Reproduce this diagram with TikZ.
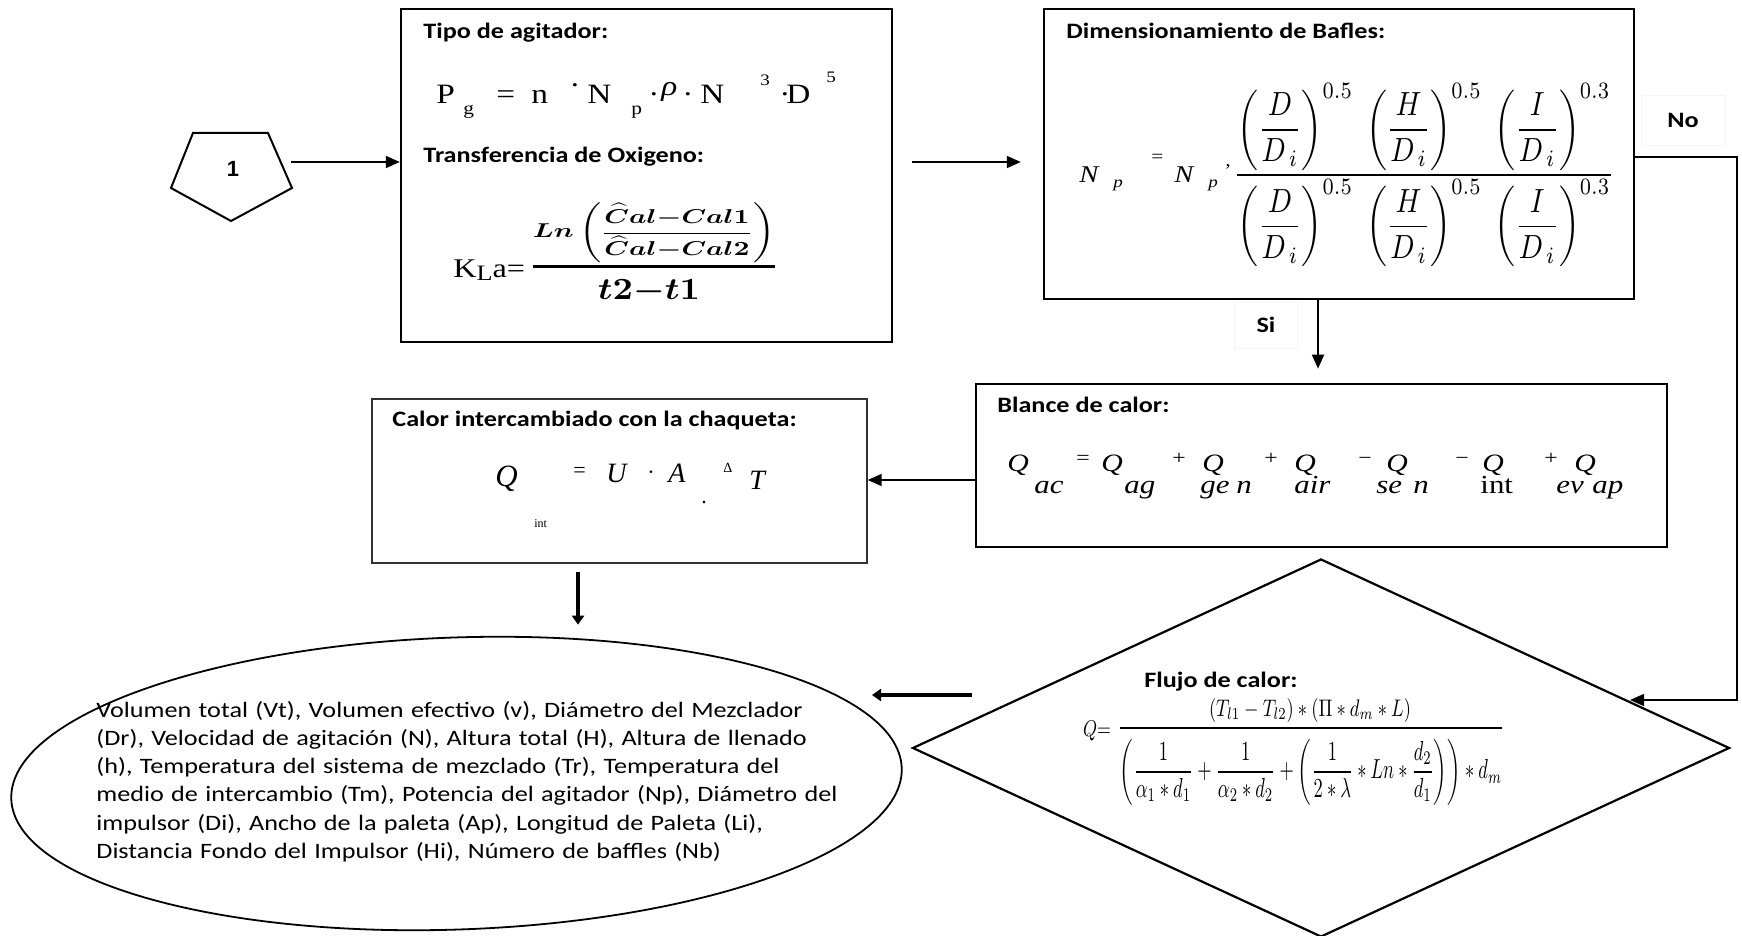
\documentclass[tikz,border=0pt]{standalone}
\usepackage{amsmath}
\usepackage{graphicx}
\usepackage{fontspec}
\usetikzlibrary{shapes.geometric,arrows.meta,calc}
\newfontfamily\calf{Carlito}[FakeStretch=1.19]
\newfontfamily\tnr{Liberation Serif}[FakeStretch=1.19]
\newfontfamily\tnrn{Liberation Serif}
\newfontfamily\arialf{Liberation Sans}
\newlength\px \setlength\px{0.5pt}
\newcommand\pput[3]{\rlap{\hspace*{#1\px}\raisebox{#2\px}{#3}}}
\newcommand\fs[1]{\fontsize{#1}{#1}\selectfont}
\tikzset{
  box/.style={draw, line width=1.2pt, inner sep=0pt},
  arr/.style={-{Triangle[length=7pt,width=6pt]}, line width=0.9pt},
  thickarr/.style={-{Triangle[length=4.5pt,width=6pt]}, line width=2.2pt},
  ttl/.style={font=\calf\bfseries\fs{11}, inner sep=0pt, anchor=base west},
  frm/.style={inner sep=0pt, anchor=base west},
  part/.style={inner sep=0pt},
  lbl/.style={font=\calf\bfseries\fs{11}, draw=black!4, line width=0.3pt, inner sep=0pt}
}
\begin{document}
\begin{tikzpicture}[x=0.5pt,y=-0.5pt]
\useasboundingbox (0,0) rectangle (1742,936);

% start connector (pentagon)
\draw[line width=1pt, line join=miter] (193,133) -- (268,133) -- (292,188) -- (231,221) -- (171,188) -- cycle;
\node[font=\arialf\bfseries\fs{11}, inner sep=0pt] (p1) at (233,169) {1};

% boxes
\node[box, minimum width=245.5pt, minimum height=166.5pt] (b1) at (646.5,175.5) {};
\node[box, minimum width=295pt, minimum height=145pt] (b2) at (1339,154) {};
\node[box, line width=1.3pt, minimum width=345.5pt, minimum height=81.5pt] (b3) at (1321.5,465.5) {};
\node[box, draw=black!80, line width=0.7pt, minimum width=247.5pt, minimum height=82pt] (b4) at (619.5,481) {};
\node[draw, diamond, line width=1.1pt, minimum width=408.5pt, minimum height=189pt, inner sep=0pt] (dm) at (1321,748) {};
\node[draw, ellipse, line width=0.9pt, minimum width=445.5pt, minimum height=146pt, rotate=2, inner sep=0pt] (ell) at (456.5,783.5) {};

% titles
\node[ttl] (t1) at (423,39) {Tipo de agitador:};
\node[ttl] (t1b) at (423,163) {Transferencia de Oxigeno:};
\node[ttl] (t2) at (1066,39) {Dimensionamiento de Bafles:};
\node[ttl] (t3) at (997,413) {Blance de calor:};
\node[ttl] (t4) at (392,427) {Calor intercambiado con la chaqueta:};
\node[ttl] (t5) at (1144,687) {Flujo de calor:};

% P_g formula
\node[frm] (fpg) at (437,104) {\tnr\fs{14}%
\pput{-2}{0}{P}\pput{25}{-11}{\fs{9}g}\pput{58}{0}{=}\pput{93}{0}{n}%
\pput{131}{9}{\textperiodcentered}\pput{149}{0}{N}\pput{193}{-11}{\fs{9}p}%
\pput{210}{0}{\textperiodcentered}\pput{223}{8}{\itshape ρ}\pput{244}{0}{\textperiodcentered}%
\pput{262}{0}{N}\pput{322}{18}{\fs{8}3}\pput{341}{0}{\textperiodcentered}%
\pput{348}{0}{D}\pput{388}{21}{\fs{8}5}};

% K_La formula
\node[frm] (fk) at (453,278) {\tnr\fs{13.5}K\raisebox{-3\px}{\fs{11}L}a=};
\node[part] (fkn) at (654,233) {\resizebox*{121pt}{30pt}{\boldmath$Ln\left(\dfrac{\widehat{C}al{-}Cal1}{\widehat{C}al{-}Cal2}\right)$}};
\node[part] (fkd) at (649,291.5) {\resizebox*{51pt}{12pt}{\boldmath$t2{-}t1$}};
\draw[line width=1.5pt] (fkn.south west |- 0,267) -- (fkn.south east |- 0,267);

% N_p formula
\node[frm] (fnpl) at (1078,183) {\tnr\itshape\fs{12}%
\pput{0}{0}{N}\pput{34}{-5}{\fs{8}p}\pput{72}{20}{\upshape\fs{9}=}%
\pput{95}{0}{N}\pput{129}{-5}{\fs{8}p}\pput{145}{6}{\upshape\fs{9}’}};
\node[part] (fnp) at (1424,175) {\resizebox*{190pt}{92pt}{$\dfrac{\left(\dfrac{D}{D_{\,i}}\right)^{0.5}\;\left(\dfrac{H}{D_{\,i}}\right)^{0.5}\;\left(\dfrac{I}{D_{\,i}}\right)^{0.3}}{\left(\dfrac{D}{D_{\,i}}\right)^{0.5}\;\left(\dfrac{H}{D_{\,i}}\right)^{0.5}\;\left(\dfrac{I}{D_{\,i}}\right)^{0.3}}$}};

% Q_ac formula
\node[frm] (fqac) at (1006,472) {\tnr\itshape\fs{12.5}%
\pput{0}{0}{Q}\pput{27}{-22}{\fs{13}ac}\pput{69}{7}{\upshape\fs{10}=}%
\pput{94}{0}{Q}\pput{117}{-22}{\fs{13}ag}\pput{165}{7}{\upshape\fs{10}+}%
\pput{195}{0}{Q}\pput{193}{-22}{\fs{13}ge}\pput{229}{-22}{\fs{13}n}\pput{257}{7}{\upshape\fs{10}+}%
\pput{287}{0}{Q}\pput{287}{-22}{\fs{13}air}\pput{351}{7}{\upshape\fs{10}−}%
\pput{379}{0}{Q}\pput{369}{-22}{\fs{13}se}\pput{406}{-22}{\fs{13}n}\pput{448}{7}{\upshape\fs{10}−}%
\pput{475}{0}{Q}\pput{473}{-22}{\upshape\fs{13}int}\pput{537}{7}{\upshape\fs{10}+}%
\pput{567}{0}{Q}\pput{549}{-22}{\fs{13}ev}\pput{585}{-22}{\fs{13}ap}};

% Q_int formula
\node[frm] (fqint) at (494,487) {\tnrn\itshape\fs{14}%
\pput{0}{0}{\fs{15.5}Q}\pput{39}{-41}{\upshape\fs{6}int}\pput{78}{9}{\upshape\fs{11}=}%
\pput{111}{4}{U}\pput{152}{7}{\upshape\fs{11}\textperiodcentered}\pput{173}{4}{A}%
\pput{206}{-17}{\upshape\fs{11}.}\pput{228}{14}{\upshape\fs{7}Δ}\pput{254}{-3}{T}};

% Flujo de calor formula
\node[part] (fflq) at (1097,731) {\resizebox*{14pt}{10pt}{$Q{=}$}};
\node[part] (ffln) at (1310,710) {\resizebox*{101pt}{12pt}{$(T_{l1}-T_{l2})*(\Pi*d_m*L)$}};
\node[part] (ffld) at (1311,772) {\resizebox*{191pt}{33pt}{$\left(\dfrac{1}{\alpha_1*d_1}+\dfrac{1}{\alpha_2*d_2}+\left(\dfrac{1}{2*\lambda}*Ln*\dfrac{d_2}{d_1}\right)\right)*d_m$}};
\draw[line width=0.6pt] (ffld.west |- 0,728) -- (ffld.east |- 0,728);

% ellipse text
\node[anchor=base west, inner sep=0pt, align=left, text width=440pt, font=\calf\fontsize{11}{14.15}\selectfont] (etx) at (96,717) {Volumen total (Vt), Volumen efectivo (v), Diámetro del Mezclador\\
(Dr), Velocidad de agitación (N), Altura total (H), Altura de llenado\\
(h), Temperatura del sistema de mezclado (Tr), Temperatura del\\
medio de intercambio (Tm), Potencia del agitador (Np), Diámetro del\\
impulsor (Di), Ancho de la paleta (Ap), Longitud de Paleta (Li),\\
Distancia Fondo del Impulsor (Hi), Número de baffles (Nb)};

% labels
\node[lbl, minimum width=31.5pt, minimum height=23pt] (si) at (1266,325) {Si};
\node[lbl, minimum width=42pt, minimum height=25pt] (no) at (1683,120) {No};

% connectors
\coordinate (a1s) at (291,162);
\coordinate (a2y) at (0,162);
\coordinate (siX) at (1318,0);
\coordinate (noR) at (1737,157);
\coordinate (noB) at (1737,700);
\coordinate (noE) at (1630,700);
\coordinate (c480) at (0,480);
\coordinate (dX) at (578,0);
\coordinate (tA) at (972,695);
\coordinate (tB) at (872,695);

\draw[arr] (a1s) -- (b1.west |- a1s);
\draw[arr, shorten <=9.5pt, shorten >=11pt] (b1.east |- a2y) -- (b2.west |- a2y);
\draw[arr, shorten >=7pt] (b2.south -| siX) -- (b3.north -| siX);
\draw[arr, line width=0.7pt] (b2.east |- noR) -- (noR) -- (noB) -- (noE);
\draw[arr] (b3.west |- c480) -- (b4.east |- c480);
\draw[thickarr, shorten <=4pt, shorten >=6pt] (b4.south -| dX) -- (ell.north -| dX);
\draw[thickarr] (tA) -- (tB);
\end{tikzpicture}
\end{document}
